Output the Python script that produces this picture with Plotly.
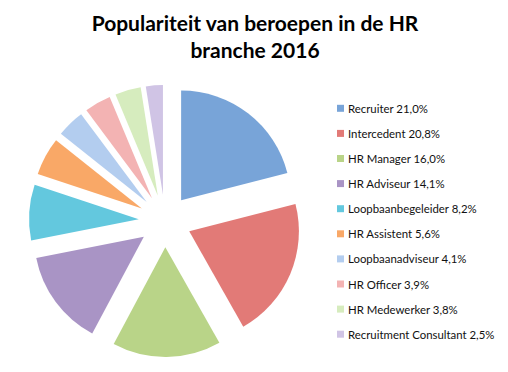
import plotly.graph_objects as go

labels = ["Recruiter", "Intercedent", "HR Manager", "HR Adviseur", "Loopbaanbegeleider",
          "HR Assistent", "Loopbaanadviseur", "HR Officer", "HR Medewerker", "Recruitment Consultant"]
values = [21.0, 20.8, 16.0, 14.1, 8.2, 5.6, 4.1, 3.9, 3.8, 2.5]
colors = ["#78a4d8", "#e27a77", "#b9d488", "#a994c5", "#63c8de",
          "#f9a867", "#b3cdef", "#f3b3b3", "#d6ecbe", "#d0c4e5"]
title_text = "Populariteit van beroepen in de HR<br>branche 2016"

W, H = 508, 372
OFF = 8  # page body margin


def px(x):
    return (x - OFF) / W


def py(y):
    return 1 - (y - OFF) / H


fig = go.Figure(go.Pie(
    labels=labels, values=values, sort=False, direction="clockwise", rotation=0,
    pull=[0.24] * len(values), textinfo="none", hoverinfo="none",
    marker=dict(colors=colors, line=dict(width=0)),
    domain=dict(x=[px(29), px(301)], y=[py(357), py(85)]),
    showlegend=False,
))

shapes, annotations = [], []
y0, dy = 108.3, 25.1
for i, (lab, val, col) in enumerate(zip(labels, values, colors)):
    yc = y0 + i * dy
    shapes.append(dict(type="rect", xref="paper", yref="paper",
                       x0=px(337), x1=px(344), y0=py(yc + 3.5), y1=py(yc - 3.5),
                       fillcolor=col, line=dict(width=0)))
    annotations.append(dict(xref="paper", yref="paper", x=px(346), y=py(yc),
                            xanchor="left", yanchor="middle", showarrow=False,
                            text=f"{lab} {val:.1f}%".replace(".", ","),
                            font=dict(family="Lato", size=11.4, color="#111111")))

fig.update_layout(
    width=W, height=H, margin=dict(l=0, r=0, t=0, b=0),
    paper_bgcolor="white", plot_bgcolor="white",
    title=dict(text=title_text, x=px(255), xanchor="center", y=py(30.5), yanchor="middle",
               font=dict(family="Lato", size=21, color="#000000", weight="bold")),
    shapes=shapes, annotations=annotations,
)
fig.write_html("out.html")
